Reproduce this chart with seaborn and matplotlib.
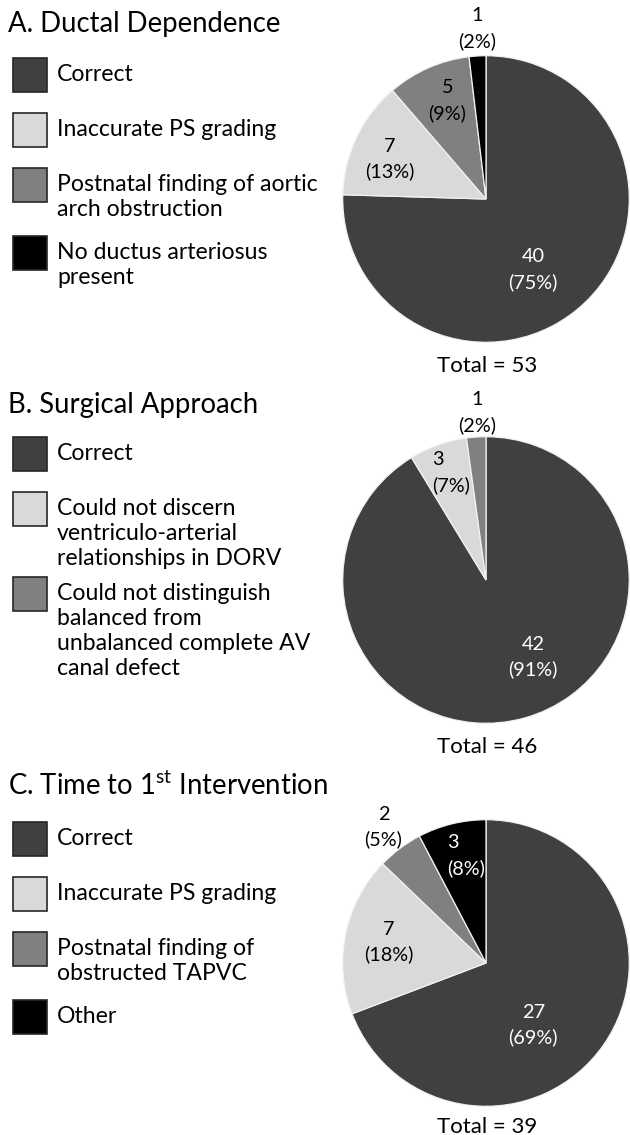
import matplotlib
matplotlib.use("Agg")
import matplotlib.pyplot as plt
from matplotlib.patches import Rectangle
import seaborn as sns

sns.set_theme(style="white")
plt.rcParams['font.family'] = ['Lato', 'DejaVu Sans']
plt.rcParams['mathtext.fontset'] = 'custom'
plt.rcParams['mathtext.rm'] = 'Lato'

# ---------------- data ----------------
title_a = "A. Ductal Dependence"
cats_a = ["Correct", "Inaccurate PS grading",
          "Postnatal finding of aortic\narch obstruction",
          "No ductus arteriosus\npresent"]
vals_a = [40, 7, 5, 1]

title_b = "B. Surgical Approach"
cats_b = ["Correct",
          "Could not discern\nventriculo-arterial\nrelationships in DORV",
          "Could not distinguish\nbalanced from\nunbalanced complete AV\ncanal defect"]
vals_b = [42, 3, 1]

title_c = r"C. Time to 1$^{\mathrm{st}}$ Intervention"
cats_c = ["Correct", "Inaccurate PS grading",
          "Postnatal finding of\nobstructed TAPVC", "Other"]
vals_c = [27, 7, 2, 3]

colors_a = ["#404040", "#d9d9d9", "#808080", "#000000"]
colors_b = ["#404040", "#d9d9d9", "#808080"]
colors_c = ["#404040", "#d9d9d9", "#808080", "#000000"]

# ---------------- layout (pixels / pie units) ----------------
W, H = 630, 1135
R = 144
PIE_CX = 486
layout = [
    dict(title=title_a, cats=cats_a, vals=vals_a, colors=colors_a,
         title_bl=32, leg_bl=[81, 136, 191, 259], cy=199, total_bl=372,
         lab=[(0.33, -0.49, 'center', 'white'), (-0.67, 0.28, 'center', 'black'),
              (-0.27, 0.69, 'center', 'black'), (-0.06, 1.19, 'center', 'black')]),
    dict(title=title_b, cats=cats_b, vals=vals_b, colors=colors_b,
         title_bl=413, leg_bl=[460, 515, 600], cy=580, total_bl=753,
         lab=[(0.33, -0.535, 'center', 'white'), (-0.375, 0.75, 'left', 'black'),
              (-0.06, 1.17, 'center', 'black')]),
    dict(title=title_c, cats=cats_c, vals=vals_c, colors=colors_c,
         title_bl=795, leg_bl=[845, 900, 955, 1023], cy=963, total_bl=1133,
         lab=[(0.33, -0.43, 'center', 'white'), (-0.68, 0.146, 'center', 'black'),
              (-0.715, 0.95, 'center', 'black'), (-0.27, 0.75, 'left', 'white')]),
]
LINE = 25
LAB_GAP = 0.088

fig = plt.figure(figsize=(W / 100, H / 100), dpi=100)
fig.patch.set_facecolor("white")

ov = fig.add_axes([0, 0, 1, 1], zorder=0)
ov.set_xlim(0, W)
ov.set_ylim(H, 0)
ov.axis('off')

for p in layout:
    # title
    ov.text(8, p['title_bl'], p['title'], fontsize=19.8, va='baseline',
            ha='left', color='black')
    # legend
    for cat, col, bl in zip(p['cats'], p['colors'], p['leg_bl']):
        ov.add_patch(Rectangle((13, bl - 23), 34, 33.5, facecolor=col,
                               edgecolor='#262626', linewidth=1.2))
        for i, line in enumerate(cat.split("\n")):
            ov.text(57, bl + i * LINE, line, fontsize=16.6, va='baseline',
                    ha='left', color='black')
    # pie
    cy = p['cy']
    axp = fig.add_axes([(PIE_CX - R) / W, 1 - (cy + R) / H, 2 * R / W, 2 * R / H],
                       zorder=1)
    axp.pie(p['vals'], colors=p['colors'], startangle=90, counterclock=False,
            wedgeprops=dict(edgecolor='#f2f2f2', linewidth=0.9))
    axp.set_xlim(-1.005, 1.005)
    axp.set_ylim(-1.005, 1.005)
    axp.set_aspect('equal')
    total = sum(p['vals'])
    for v, (lx, ly, ha, tc) in zip(p['vals'], p['lab']):
        pct = round(v / total * 100)
        axp.text(lx, ly + LAB_GAP, f"{v}", ha=ha, va='center', fontsize=14.3,
                 color=tc, clip_on=False)
        axp.text(lx, ly - LAB_GAP, f"({pct}%)", ha=ha, va='center',
                 fontsize=14.3, color=tc, clip_on=False)
    ov.text(PIE_CX + 1, p['total_bl'], f"Total = {total}", ha='center',
            va='baseline', fontsize=16, color='black')

fig.savefig("out.png", dpi=100, facecolor="white")
